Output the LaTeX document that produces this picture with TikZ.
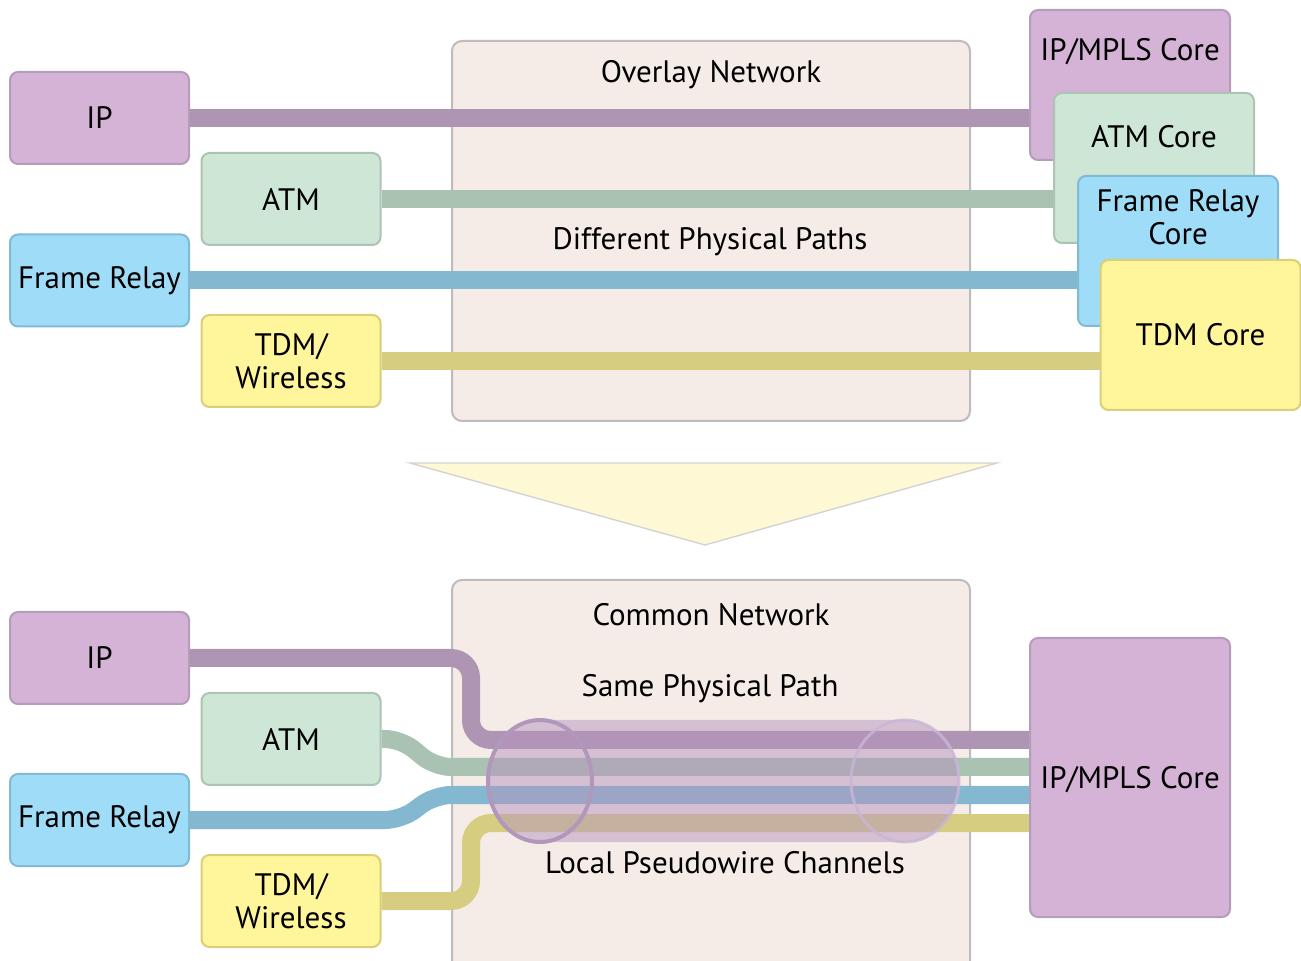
\documentclass[tikz,border=0pt]{standalone}
\usepackage{fontspec}
\setmainfont{PT Sans}
\usetikzlibrary{positioning}
\definecolor{ipfill}{HTML}{D4B3D6}
\definecolor{ipdraw}{HTML}{B49CBB}
\definecolor{ipline}{HTML}{AE95B3}
\definecolor{atmfill}{HTML}{CEE6D6}
\definecolor{atmdraw}{HTML}{ADC4B5}
\definecolor{atmline}{HTML}{A9C2B2}
\definecolor{frfill}{HTML}{9EDCF7}
\definecolor{frdraw}{HTML}{82BAD3}
\definecolor{frline}{HTML}{83B8D0}
\definecolor{tdmfill}{HTML}{FFF59B}
\definecolor{tdmdraw}{HTML}{DACE78}
\definecolor{tdmline}{HTML}{D6CD80}
\definecolor{netfill}{HTML}{F5ECE7}
\definecolor{netdraw}{HTML}{BFBBBD}
\definecolor{arrowfill}{HTML}{FEF9D4}
\definecolor{arrowdraw}{HTML}{D3D3D3}
\definecolor{tubefill}{HTML}{B794BE}
\definecolor{tubedraw}{HTML}{B197BC}
\definecolor{tuberim}{HTML}{C9B6D6}
\pgfdeclarelayer{back}
\pgfdeclarelayer{wires}
\pgfsetlayers{back,wires,main}
\tikzset{
  box/.style={draw, line width=1pt, rounded corners=4pt, minimum width=89.5pt,
    minimum height=46pt, align=center, inner sep=0pt},
  ipbox/.style={box, fill=ipfill, draw=ipdraw},
  atmbox/.style={box, fill=atmfill, draw=atmdraw},
  frbox/.style={box, fill=frfill, draw=frdraw},
  tdmbox/.style={box, fill=tdmfill, draw=tdmdraw},
  corebox/.style={minimum width=100pt, minimum height=75pt},
  netbox/.style={draw=netdraw, fill=netfill, line width=1pt, rounded corners=5pt,
    minimum width=259pt, inner sep=0pt},
  wire/.style={line width=9pt},
  lbl/.style={inner sep=0pt},
}
\begin{document}
\begin{tikzpicture}[x=0.5pt, y=-0.5pt, font=\fontsize{15.5}{16.5}\selectfont]
\clip (0,0) rectangle (1301,961);
\begin{pgfonlayer}{back}
  \node[netbox, minimum height=190pt] (overlay) at (711,231) {};
  \node[netbox, minimum height=215pt] (common) at (711,795) {};
\end{pgfonlayer}
\node[lbl] (overlaylbl) at (711,75) {Overlay Network};
\node[lbl] (difflbl) at (710,242) {Different Physical Paths};
\node[lbl] (commonlbl) at (711,615) {Common Network};
\node[lbl] (samelbl) at (710,689) {Same Physical Path};
\node[lbl] (pwlbl) at (725,863) {Local Pseudowire Channels};

\node[ipbox] (ip) at (99.5,118) {IP};
\node[atmbox] (atm) at (291,199) {ATM};
\node[frbox] (fr) at (99.5,280.5) {Frame Relay};
\node[tdmbox] (tdm) at (291,361) {TDM/\\Wireless};
\node[ipbox, corebox, label={[anchor=center, yshift=-21.5pt]north:IP/MPLS Core}] (ipcore) at (1130,85) {};
\node[atmbox, corebox, label={[anchor=center, yshift=-22.5pt]north:ATM Core}] (atmcore) at (1154,168) {};
\node[frbox, corebox, label={[anchor=center, yshift=-21pt, align=center]north:Frame Relay\\Core}] (frcore) at (1178,251) {};
\node[tdmbox, corebox] (tdmcore) at (1200.5,335) {TDM Core};

\begin{pgfonlayer}{wires}
  \draw[wire, ipline] (ip.east) -- (ip.east -| ipcore.west);
  \draw[wire, atmline] (atm.east) -- (atm.east -| atmcore.west);
  \draw[wire, frline] (fr.east) -- (fr.east -| frcore.west);
  \draw[wire, tdmline] (tdm.east) -- (tdm.east -| tdmcore.west);
\end{pgfonlayer}

\filldraw[fill=arrowfill, draw=arrowdraw, line width=0.7pt] (410,463) -- (997,463) -- (705,545) -- cycle;

\node[ipbox] (ip2) at (99.5,658) {IP};
\node[atmbox] (atm2) at (291,739) {ATM};
\node[frbox] (fr2) at (99.5,820) {Frame Relay};
\node[tdmbox] (tdm2) at (291,901) {TDM/\\Wireless};
\node[ipbox, minimum width=100pt, minimum height=139.5pt, text depth=-6pt] (core2) at (1130,777.5) {IP/MPLS Core};

\begin{pgfonlayer}{wires}
  \draw[wire, ipline, rounded corners=10pt] (ip2.east) -| (471,740) -- (core2.west |- 0,740);
  \draw[wire, atmline, rounded corners=8pt] (atm2.east) -- (401,739) -- (435,767) -- (core2.west |- 0,767);
  \draw[wire, frline, rounded corners=8pt] (fr2.east) -- (401,820) -- (435,795) -- (core2.west |- 0,795);
  \draw[wire, tdmline, rounded corners=10pt] (tdm2.east) -| (471,823) -- (core2.west |- 0,823);
  \fill[tubefill, fill opacity=0.5] (540,720) -- (905,720)
    arc[start angle=-90, end angle=90, x radius=54, y radius=61] -- (540,842)
    arc[start angle=90, end angle=270, x radius=52, y radius=61] -- cycle;
  \draw[tuberim, line width=1.5pt, opacity=0.8] (905,781) ellipse [x radius=54, y radius=61];
  \draw[tubedraw, line width=2pt] (540,781) ellipse [x radius=52, y radius=61];
\end{pgfonlayer}
\end{tikzpicture}
\end{document}
